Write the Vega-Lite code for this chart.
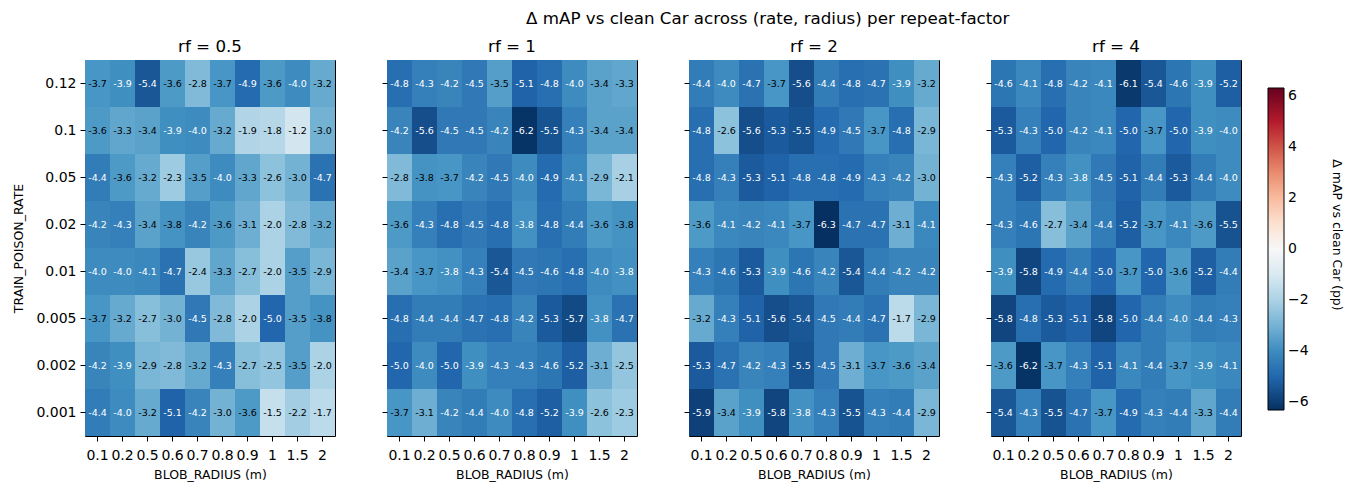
{
  "$schema": "https://vega.github.io/schema/vega-lite/v6.json",
  "background": "white",
  "padding": {"left": 12, "top": 11, "right": 5, "bottom": 1},
  "title": {"text": "Δ mAP vs clean Car across (rate, radius) per repeat-factor", "fontSize": 16.7, "fontWeight": "normal", "font": "DejaVu Sans", "color": "black", "anchor": "middle", "offset": 11, "dx": 76},
  "config": {
    "font": "DejaVu Sans",
    "locale": {"number": {"decimal": ".", "thousands": ",", "grouping": [3], "currency": ["$", ""], "minus": "-"}},
    "view": {"stroke": "black", "strokeWidth": 1},
    "axis": {"domain": false, "tickColor": "black", "tickSize": 5, "labelColor": "black", "titleColor": "black", "labelFont": "DejaVu Sans", "titleFont": "DejaVu Sans", "labelFontSize": 14, "titleFontSize": 12.5, "titleFontWeight": "normal", "labelPadding": 4, "grid": false},
    "axisX": {"labelPadding": 7, "titlePadding": 6},
    "title": {"fontSize": 16.7, "fontWeight": "normal", "color": "black", "offset": 4}
  },
  "spacing": 45,
  "data": {"values": [
{"f":0.5,"p":"0.12","b":"0.1","v":-3.7},{"f":0.5,"p":"0.12","b":"0.2","v":-3.9},{"f":0.5,"p":"0.12","b":"0.5","v":-5.4},{"f":0.5,"p":"0.12","b":"0.6","v":-3.6},{"f":0.5,"p":"0.12","b":"0.7","v":-2.8},{"f":0.5,"p":"0.12","b":"0.8","v":-3.7},{"f":0.5,"p":"0.12","b":"0.9","v":-4.9},{"f":0.5,"p":"0.12","b":"1","v":-3.6},{"f":0.5,"p":"0.12","b":"1.5","v":-4.0},{"f":0.5,"p":"0.12","b":"2","v":-3.2},
{"f":0.5,"p":"0.1","b":"0.1","v":-3.6},{"f":0.5,"p":"0.1","b":"0.2","v":-3.3},{"f":0.5,"p":"0.1","b":"0.5","v":-3.4},{"f":0.5,"p":"0.1","b":"0.6","v":-3.9},{"f":0.5,"p":"0.1","b":"0.7","v":-4.0},{"f":0.5,"p":"0.1","b":"0.8","v":-3.2},{"f":0.5,"p":"0.1","b":"0.9","v":-1.9},{"f":0.5,"p":"0.1","b":"1","v":-1.8},{"f":0.5,"p":"0.1","b":"1.5","v":-1.2},{"f":0.5,"p":"0.1","b":"2","v":-3.0},
{"f":0.5,"p":"0.05","b":"0.1","v":-4.4},{"f":0.5,"p":"0.05","b":"0.2","v":-3.6},{"f":0.5,"p":"0.05","b":"0.5","v":-3.2},{"f":0.5,"p":"0.05","b":"0.6","v":-2.3},{"f":0.5,"p":"0.05","b":"0.7","v":-3.5},{"f":0.5,"p":"0.05","b":"0.8","v":-4.0},{"f":0.5,"p":"0.05","b":"0.9","v":-3.3},{"f":0.5,"p":"0.05","b":"1","v":-2.6},{"f":0.5,"p":"0.05","b":"1.5","v":-3.0},{"f":0.5,"p":"0.05","b":"2","v":-4.7},
{"f":0.5,"p":"0.02","b":"0.1","v":-4.2},{"f":0.5,"p":"0.02","b":"0.2","v":-4.3},{"f":0.5,"p":"0.02","b":"0.5","v":-3.4},{"f":0.5,"p":"0.02","b":"0.6","v":-3.77},{"f":0.5,"p":"0.02","b":"0.7","v":-4.2},{"f":0.5,"p":"0.02","b":"0.8","v":-3.6},{"f":0.5,"p":"0.02","b":"0.9","v":-3.1},{"f":0.5,"p":"0.02","b":"1","v":-2.0},{"f":0.5,"p":"0.02","b":"1.5","v":-2.8},{"f":0.5,"p":"0.02","b":"2","v":-3.2},
{"f":0.5,"p":"0.01","b":"0.1","v":-4.0},{"f":0.5,"p":"0.01","b":"0.2","v":-4.0},{"f":0.5,"p":"0.01","b":"0.5","v":-4.1},{"f":0.5,"p":"0.01","b":"0.6","v":-4.7},{"f":0.5,"p":"0.01","b":"0.7","v":-2.4},{"f":0.5,"p":"0.01","b":"0.8","v":-3.3},{"f":0.5,"p":"0.01","b":"0.9","v":-2.7},{"f":0.5,"p":"0.01","b":"1","v":-2.0},{"f":0.5,"p":"0.01","b":"1.5","v":-3.5},{"f":0.5,"p":"0.01","b":"2","v":-2.9},
{"f":0.5,"p":"0.005","b":"0.1","v":-3.7},{"f":0.5,"p":"0.005","b":"0.2","v":-3.2},{"f":0.5,"p":"0.005","b":"0.5","v":-2.7},{"f":0.5,"p":"0.005","b":"0.6","v":-3.0},{"f":0.5,"p":"0.005","b":"0.7","v":-4.5},{"f":0.5,"p":"0.005","b":"0.8","v":-2.8},{"f":0.5,"p":"0.005","b":"0.9","v":-2.0},{"f":0.5,"p":"0.005","b":"1","v":-5.0},{"f":0.5,"p":"0.005","b":"1.5","v":-3.5},{"f":0.5,"p":"0.005","b":"2","v":-3.77},
{"f":0.5,"p":"0.002","b":"0.1","v":-4.2},{"f":0.5,"p":"0.002","b":"0.2","v":-3.9},{"f":0.5,"p":"0.002","b":"0.5","v":-2.9},{"f":0.5,"p":"0.002","b":"0.6","v":-2.8},{"f":0.5,"p":"0.002","b":"0.7","v":-3.2},{"f":0.5,"p":"0.002","b":"0.8","v":-4.3},{"f":0.5,"p":"0.002","b":"0.9","v":-2.7},{"f":0.5,"p":"0.002","b":"1","v":-2.5},{"f":0.5,"p":"0.002","b":"1.5","v":-3.5},{"f":0.5,"p":"0.002","b":"2","v":-2.0},
{"f":0.5,"p":"0.001","b":"0.1","v":-4.4},{"f":0.5,"p":"0.001","b":"0.2","v":-4.0},{"f":0.5,"p":"0.001","b":"0.5","v":-3.2},{"f":0.5,"p":"0.001","b":"0.6","v":-5.1},{"f":0.5,"p":"0.001","b":"0.7","v":-4.2},{"f":0.5,"p":"0.001","b":"0.8","v":-3.0},{"f":0.5,"p":"0.001","b":"0.9","v":-3.6},{"f":0.5,"p":"0.001","b":"1","v":-1.5},{"f":0.5,"p":"0.001","b":"1.5","v":-2.2},{"f":0.5,"p":"0.001","b":"2","v":-1.7},
{"f":1,"p":"0.12","b":"0.1","v":-4.8},{"f":1,"p":"0.12","b":"0.2","v":-4.3},{"f":1,"p":"0.12","b":"0.5","v":-4.2},{"f":1,"p":"0.12","b":"0.6","v":-4.5},{"f":1,"p":"0.12","b":"0.7","v":-3.5},{"f":1,"p":"0.12","b":"0.8","v":-5.1},{"f":1,"p":"0.12","b":"0.9","v":-4.8},{"f":1,"p":"0.12","b":"1","v":-4.0},{"f":1,"p":"0.12","b":"1.5","v":-3.4},{"f":1,"p":"0.12","b":"2","v":-3.3},
{"f":1,"p":"0.1","b":"0.1","v":-4.2},{"f":1,"p":"0.1","b":"0.2","v":-5.6},{"f":1,"p":"0.1","b":"0.5","v":-4.5},{"f":1,"p":"0.1","b":"0.6","v":-4.5},{"f":1,"p":"0.1","b":"0.7","v":-4.2},{"f":1,"p":"0.1","b":"0.8","v":-6.2},{"f":1,"p":"0.1","b":"0.9","v":-5.5},{"f":1,"p":"0.1","b":"1","v":-4.3},{"f":1,"p":"0.1","b":"1.5","v":-3.4},{"f":1,"p":"0.1","b":"2","v":-3.4},
{"f":1,"p":"0.05","b":"0.1","v":-2.8},{"f":1,"p":"0.05","b":"0.2","v":-3.77},{"f":1,"p":"0.05","b":"0.5","v":-3.7},{"f":1,"p":"0.05","b":"0.6","v":-4.2},{"f":1,"p":"0.05","b":"0.7","v":-4.5},{"f":1,"p":"0.05","b":"0.8","v":-4.0},{"f":1,"p":"0.05","b":"0.9","v":-4.9},{"f":1,"p":"0.05","b":"1","v":-4.1},{"f":1,"p":"0.05","b":"1.5","v":-2.9},{"f":1,"p":"0.05","b":"2","v":-2.1},
{"f":1,"p":"0.02","b":"0.1","v":-3.6},{"f":1,"p":"0.02","b":"0.2","v":-4.3},{"f":1,"p":"0.02","b":"0.5","v":-4.8},{"f":1,"p":"0.02","b":"0.6","v":-4.5},{"f":1,"p":"0.02","b":"0.7","v":-4.8},{"f":1,"p":"0.02","b":"0.8","v":-3.83},{"f":1,"p":"0.02","b":"0.9","v":-4.8},{"f":1,"p":"0.02","b":"1","v":-4.4},{"f":1,"p":"0.02","b":"1.5","v":-3.6},{"f":1,"p":"0.02","b":"2","v":-3.77},
{"f":1,"p":"0.01","b":"0.1","v":-3.4},{"f":1,"p":"0.01","b":"0.2","v":-3.7},{"f":1,"p":"0.01","b":"0.5","v":-3.83},{"f":1,"p":"0.01","b":"0.6","v":-4.3},{"f":1,"p":"0.01","b":"0.7","v":-5.4},{"f":1,"p":"0.01","b":"0.8","v":-4.5},{"f":1,"p":"0.01","b":"0.9","v":-4.6},{"f":1,"p":"0.01","b":"1","v":-4.8},{"f":1,"p":"0.01","b":"1.5","v":-4.0},{"f":1,"p":"0.01","b":"2","v":-3.83},
{"f":1,"p":"0.005","b":"0.1","v":-4.8},{"f":1,"p":"0.005","b":"0.2","v":-4.4},{"f":1,"p":"0.005","b":"0.5","v":-4.4},{"f":1,"p":"0.005","b":"0.6","v":-4.7},{"f":1,"p":"0.005","b":"0.7","v":-4.8},{"f":1,"p":"0.005","b":"0.8","v":-4.2},{"f":1,"p":"0.005","b":"0.9","v":-5.3},{"f":1,"p":"0.005","b":"1","v":-5.7},{"f":1,"p":"0.005","b":"1.5","v":-3.83},{"f":1,"p":"0.005","b":"2","v":-4.7},
{"f":1,"p":"0.002","b":"0.1","v":-5.0},{"f":1,"p":"0.002","b":"0.2","v":-4.0},{"f":1,"p":"0.002","b":"0.5","v":-5.0},{"f":1,"p":"0.002","b":"0.6","v":-3.9},{"f":1,"p":"0.002","b":"0.7","v":-4.3},{"f":1,"p":"0.002","b":"0.8","v":-4.3},{"f":1,"p":"0.002","b":"0.9","v":-4.6},{"f":1,"p":"0.002","b":"1","v":-5.2},{"f":1,"p":"0.002","b":"1.5","v":-3.1},{"f":1,"p":"0.002","b":"2","v":-2.5},
{"f":1,"p":"0.001","b":"0.1","v":-3.7},{"f":1,"p":"0.001","b":"0.2","v":-3.1},{"f":1,"p":"0.001","b":"0.5","v":-4.2},{"f":1,"p":"0.001","b":"0.6","v":-4.4},{"f":1,"p":"0.001","b":"0.7","v":-4.0},{"f":1,"p":"0.001","b":"0.8","v":-4.8},{"f":1,"p":"0.001","b":"0.9","v":-5.2},{"f":1,"p":"0.001","b":"1","v":-3.9},{"f":1,"p":"0.001","b":"1.5","v":-2.6},{"f":1,"p":"0.001","b":"2","v":-2.3},
{"f":2,"p":"0.12","b":"0.1","v":-4.4},{"f":2,"p":"0.12","b":"0.2","v":-4.0},{"f":2,"p":"0.12","b":"0.5","v":-4.7},{"f":2,"p":"0.12","b":"0.6","v":-3.7},{"f":2,"p":"0.12","b":"0.7","v":-5.6},{"f":2,"p":"0.12","b":"0.8","v":-4.4},{"f":2,"p":"0.12","b":"0.9","v":-4.8},{"f":2,"p":"0.12","b":"1","v":-4.7},{"f":2,"p":"0.12","b":"1.5","v":-3.9},{"f":2,"p":"0.12","b":"2","v":-3.2},
{"f":2,"p":"0.1","b":"0.1","v":-4.8},{"f":2,"p":"0.1","b":"0.2","v":-2.6},{"f":2,"p":"0.1","b":"0.5","v":-5.6},{"f":2,"p":"0.1","b":"0.6","v":-5.3},{"f":2,"p":"0.1","b":"0.7","v":-5.5},{"f":2,"p":"0.1","b":"0.8","v":-4.9},{"f":2,"p":"0.1","b":"0.9","v":-4.5},{"f":2,"p":"0.1","b":"1","v":-3.7},{"f":2,"p":"0.1","b":"1.5","v":-4.8},{"f":2,"p":"0.1","b":"2","v":-2.9},
{"f":2,"p":"0.05","b":"0.1","v":-4.8},{"f":2,"p":"0.05","b":"0.2","v":-4.3},{"f":2,"p":"0.05","b":"0.5","v":-5.3},{"f":2,"p":"0.05","b":"0.6","v":-5.1},{"f":2,"p":"0.05","b":"0.7","v":-4.8},{"f":2,"p":"0.05","b":"0.8","v":-4.8},{"f":2,"p":"0.05","b":"0.9","v":-4.9},{"f":2,"p":"0.05","b":"1","v":-4.3},{"f":2,"p":"0.05","b":"1.5","v":-4.2},{"f":2,"p":"0.05","b":"2","v":-3.0},
{"f":2,"p":"0.02","b":"0.1","v":-3.6},{"f":2,"p":"0.02","b":"0.2","v":-4.1},{"f":2,"p":"0.02","b":"0.5","v":-4.2},{"f":2,"p":"0.02","b":"0.6","v":-4.1},{"f":2,"p":"0.02","b":"0.7","v":-3.7},{"f":2,"p":"0.02","b":"0.8","v":-6.3},{"f":2,"p":"0.02","b":"0.9","v":-4.7},{"f":2,"p":"0.02","b":"1","v":-4.7},{"f":2,"p":"0.02","b":"1.5","v":-3.1},{"f":2,"p":"0.02","b":"2","v":-4.1},
{"f":2,"p":"0.01","b":"0.1","v":-4.3},{"f":2,"p":"0.01","b":"0.2","v":-4.6},{"f":2,"p":"0.01","b":"0.5","v":-5.3},{"f":2,"p":"0.01","b":"0.6","v":-3.9},{"f":2,"p":"0.01","b":"0.7","v":-4.6},{"f":2,"p":"0.01","b":"0.8","v":-4.2},{"f":2,"p":"0.01","b":"0.9","v":-5.4},{"f":2,"p":"0.01","b":"1","v":-4.4},{"f":2,"p":"0.01","b":"1.5","v":-4.2},{"f":2,"p":"0.01","b":"2","v":-4.2},
{"f":2,"p":"0.005","b":"0.1","v":-3.2},{"f":2,"p":"0.005","b":"0.2","v":-4.3},{"f":2,"p":"0.005","b":"0.5","v":-5.1},{"f":2,"p":"0.005","b":"0.6","v":-5.6},{"f":2,"p":"0.005","b":"0.7","v":-5.4},{"f":2,"p":"0.005","b":"0.8","v":-4.5},{"f":2,"p":"0.005","b":"0.9","v":-4.4},{"f":2,"p":"0.005","b":"1","v":-4.7},{"f":2,"p":"0.005","b":"1.5","v":-1.7},{"f":2,"p":"0.005","b":"2","v":-2.9},
{"f":2,"p":"0.002","b":"0.1","v":-5.3},{"f":2,"p":"0.002","b":"0.2","v":-4.7},{"f":2,"p":"0.002","b":"0.5","v":-4.2},{"f":2,"p":"0.002","b":"0.6","v":-4.3},{"f":2,"p":"0.002","b":"0.7","v":-5.5},{"f":2,"p":"0.002","b":"0.8","v":-4.5},{"f":2,"p":"0.002","b":"0.9","v":-3.1},{"f":2,"p":"0.002","b":"1","v":-3.7},{"f":2,"p":"0.002","b":"1.5","v":-3.6},{"f":2,"p":"0.002","b":"2","v":-3.4},
{"f":2,"p":"0.001","b":"0.1","v":-5.9},{"f":2,"p":"0.001","b":"0.2","v":-3.4},{"f":2,"p":"0.001","b":"0.5","v":-3.9},{"f":2,"p":"0.001","b":"0.6","v":-5.8},{"f":2,"p":"0.001","b":"0.7","v":-3.83},{"f":2,"p":"0.001","b":"0.8","v":-4.3},{"f":2,"p":"0.001","b":"0.9","v":-5.5},{"f":2,"p":"0.001","b":"1","v":-4.3},{"f":2,"p":"0.001","b":"1.5","v":-4.4},{"f":2,"p":"0.001","b":"2","v":-2.9},
{"f":4,"p":"0.12","b":"0.1","v":-4.6},{"f":4,"p":"0.12","b":"0.2","v":-4.1},{"f":4,"p":"0.12","b":"0.5","v":-4.8},{"f":4,"p":"0.12","b":"0.6","v":-4.2},{"f":4,"p":"0.12","b":"0.7","v":-4.1},{"f":4,"p":"0.12","b":"0.8","v":-6.1},{"f":4,"p":"0.12","b":"0.9","v":-5.4},{"f":4,"p":"0.12","b":"1","v":-4.6},{"f":4,"p":"0.12","b":"1.5","v":-3.9},{"f":4,"p":"0.12","b":"2","v":-5.2},
{"f":4,"p":"0.1","b":"0.1","v":-5.3},{"f":4,"p":"0.1","b":"0.2","v":-4.3},{"f":4,"p":"0.1","b":"0.5","v":-5.0},{"f":4,"p":"0.1","b":"0.6","v":-4.2},{"f":4,"p":"0.1","b":"0.7","v":-4.1},{"f":4,"p":"0.1","b":"0.8","v":-5.0},{"f":4,"p":"0.1","b":"0.9","v":-3.7},{"f":4,"p":"0.1","b":"1","v":-5.0},{"f":4,"p":"0.1","b":"1.5","v":-3.9},{"f":4,"p":"0.1","b":"2","v":-4.0},
{"f":4,"p":"0.05","b":"0.1","v":-4.3},{"f":4,"p":"0.05","b":"0.2","v":-5.2},{"f":4,"p":"0.05","b":"0.5","v":-4.3},{"f":4,"p":"0.05","b":"0.6","v":-3.83},{"f":4,"p":"0.05","b":"0.7","v":-4.5},{"f":4,"p":"0.05","b":"0.8","v":-5.1},{"f":4,"p":"0.05","b":"0.9","v":-4.4},{"f":4,"p":"0.05","b":"1","v":-5.3},{"f":4,"p":"0.05","b":"1.5","v":-4.4},{"f":4,"p":"0.05","b":"2","v":-4.0},
{"f":4,"p":"0.02","b":"0.1","v":-4.3},{"f":4,"p":"0.02","b":"0.2","v":-4.6},{"f":4,"p":"0.02","b":"0.5","v":-2.7},{"f":4,"p":"0.02","b":"0.6","v":-3.4},{"f":4,"p":"0.02","b":"0.7","v":-4.4},{"f":4,"p":"0.02","b":"0.8","v":-5.2},{"f":4,"p":"0.02","b":"0.9","v":-3.7},{"f":4,"p":"0.02","b":"1","v":-4.1},{"f":4,"p":"0.02","b":"1.5","v":-3.6},{"f":4,"p":"0.02","b":"2","v":-5.5},
{"f":4,"p":"0.01","b":"0.1","v":-3.9},{"f":4,"p":"0.01","b":"0.2","v":-5.8},{"f":4,"p":"0.01","b":"0.5","v":-4.9},{"f":4,"p":"0.01","b":"0.6","v":-4.4},{"f":4,"p":"0.01","b":"0.7","v":-5.0},{"f":4,"p":"0.01","b":"0.8","v":-3.7},{"f":4,"p":"0.01","b":"0.9","v":-5.0},{"f":4,"p":"0.01","b":"1","v":-3.6},{"f":4,"p":"0.01","b":"1.5","v":-5.2},{"f":4,"p":"0.01","b":"2","v":-4.4},
{"f":4,"p":"0.005","b":"0.1","v":-5.8},{"f":4,"p":"0.005","b":"0.2","v":-4.8},{"f":4,"p":"0.005","b":"0.5","v":-5.3},{"f":4,"p":"0.005","b":"0.6","v":-5.1},{"f":4,"p":"0.005","b":"0.7","v":-5.8},{"f":4,"p":"0.005","b":"0.8","v":-5.0},{"f":4,"p":"0.005","b":"0.9","v":-4.4},{"f":4,"p":"0.005","b":"1","v":-4.0},{"f":4,"p":"0.005","b":"1.5","v":-4.4},{"f":4,"p":"0.005","b":"2","v":-4.3},
{"f":4,"p":"0.002","b":"0.1","v":-3.6},{"f":4,"p":"0.002","b":"0.2","v":-6.2},{"f":4,"p":"0.002","b":"0.5","v":-3.7},{"f":4,"p":"0.002","b":"0.6","v":-4.3},{"f":4,"p":"0.002","b":"0.7","v":-5.1},{"f":4,"p":"0.002","b":"0.8","v":-4.1},{"f":4,"p":"0.002","b":"0.9","v":-4.4},{"f":4,"p":"0.002","b":"1","v":-3.7},{"f":4,"p":"0.002","b":"1.5","v":-3.9},{"f":4,"p":"0.002","b":"2","v":-4.1},
{"f":4,"p":"0.001","b":"0.1","v":-5.4},{"f":4,"p":"0.001","b":"0.2","v":-4.3},{"f":4,"p":"0.001","b":"0.5","v":-5.5},{"f":4,"p":"0.001","b":"0.6","v":-4.7},{"f":4,"p":"0.001","b":"0.7","v":-3.7},{"f":4,"p":"0.001","b":"0.8","v":-4.9},{"f":4,"p":"0.001","b":"0.9","v":-4.3},{"f":4,"p":"0.001","b":"1","v":-4.4},{"f":4,"p":"0.001","b":"1.5","v":-3.3},{"f":4,"p":"0.001","b":"2","v":-4.4}
  ]},
  "hconcat": [
    {
      "width": 250, "height": 376,
      "title": "rf = 0.5",
      "transform": [{"filter": "datum.f == 0.5"}],
      "encoding": {
        "x": {"field": "b", "type": "ordinal", "sort": ["0.1","0.2","0.5","0.6","0.7","0.8","0.9","1","1.5","2"], "title": "BLOB_RADIUS (m)", "axis": {"labelAngle": 0}},
        "y": {"field": "p", "type": "ordinal", "sort": ["0.12","0.1","0.05","0.02","0.01","0.005","0.002","0.001"], "title": "TRAIN_POISON_RATE", "axis": {"titlePadding": 10}}
      },
      "layer": [
        {"mark": {"type": "rect"}, "encoding": {
          "color": {"field": "v", "type": "quantitative", "scale": {"domain": [-6.3, 6.3], "range": ["#053061","#2166ac","#4393c3","#92c5de","#d1e5f0","#f7f7f7","#fddbc7","#f4a582","#d6604d","#b2182b","#67001f"], "interpolate": "rgb"}, "legend": {"type": "gradient", "title": "Δ mAP vs clean Car (pp)", "orient": "right", "offset": -2, "padding": 28, "direction": "vertical", "gradientLength": 322, "gradientThickness": 16, "gradientStrokeColor": "black", "gradientStrokeWidth": 1, "values": [-6, -4, -2, 0, 2, 4, 6], "labelFontSize": 14, "labelColor": "black", "labelExpr": "replace(datum.label, '-', '−')", "titleFontSize": 12.5, "titleFontWeight": "normal", "titleColor": "black", "titleOrient": "right", "titleAngle": 90, "titleAnchor": "middle", "titleBaseline": "bottom", "titlePadding": 21, "labelOffset": 4}}}},
        {"mark": {"type": "text", "fontSize": 9.5}, "encoding": {"text": {"field": "v", "type": "quantitative", "format": ".1f"}, "color": {"condition": {"test": "datum.v < -3.8", "value": "white"}, "value": "black"}}}
      ]
    },
    {
      "width": 250, "height": 376,
      "title": "rf = 1",
      "transform": [{"filter": "datum.f == 1"}],
      "encoding": {
        "x": {"field": "b", "type": "ordinal", "sort": ["0.1","0.2","0.5","0.6","0.7","0.8","0.9","1","1.5","2"], "title": "BLOB_RADIUS (m)", "axis": {"labelAngle": 0}},
        "y": {"field": "p", "type": "ordinal", "sort": ["0.12","0.1","0.05","0.02","0.01","0.005","0.002","0.001"], "title": null, "axis": {"labels": false, "labelPadding": 0}}
      },
      "layer": [
        {"mark": {"type": "rect"}, "encoding": {"color": {"field": "v", "type": "quantitative"}}},
        {"mark": {"type": "text", "fontSize": 9.5}, "encoding": {"text": {"field": "v", "type": "quantitative", "format": ".1f"}, "color": {"condition": {"test": "datum.v < -3.8", "value": "white"}, "value": "black"}}}
      ]
    },
    {
      "width": 250, "height": 376,
      "title": "rf = 2",
      "transform": [{"filter": "datum.f == 2"}],
      "encoding": {
        "x": {"field": "b", "type": "ordinal", "sort": ["0.1","0.2","0.5","0.6","0.7","0.8","0.9","1","1.5","2"], "title": "BLOB_RADIUS (m)", "axis": {"labelAngle": 0}},
        "y": {"field": "p", "type": "ordinal", "sort": ["0.12","0.1","0.05","0.02","0.01","0.005","0.002","0.001"], "title": null, "axis": {"labels": false, "labelPadding": 0}}
      },
      "layer": [
        {"mark": {"type": "rect"}, "encoding": {"color": {"field": "v", "type": "quantitative"}}},
        {"mark": {"type": "text", "fontSize": 9.5}, "encoding": {"text": {"field": "v", "type": "quantitative", "format": ".1f"}, "color": {"condition": {"test": "datum.v < -3.8", "value": "white"}, "value": "black"}}}
      ]
    },
    {
      "width": 250, "height": 376,
      "title": "rf = 4",
      "transform": [{"filter": "datum.f == 4"}],
      "encoding": {
        "x": {"field": "b", "type": "ordinal", "sort": ["0.1","0.2","0.5","0.6","0.7","0.8","0.9","1","1.5","2"], "title": "BLOB_RADIUS (m)", "axis": {"labelAngle": 0}},
        "y": {"field": "p", "type": "ordinal", "sort": ["0.12","0.1","0.05","0.02","0.01","0.005","0.002","0.001"], "title": null, "axis": {"labels": false, "labelPadding": 0}}
      },
      "layer": [
        {"mark": {"type": "rect"}, "encoding": {"color": {"field": "v", "type": "quantitative"}}},
        {"mark": {"type": "text", "fontSize": 9.5}, "encoding": {"text": {"field": "v", "type": "quantitative", "format": ".1f"}, "color": {"condition": {"test": "datum.v < -3.8", "value": "white"}, "value": "black"}}}
      ]
    }
  ]
}
